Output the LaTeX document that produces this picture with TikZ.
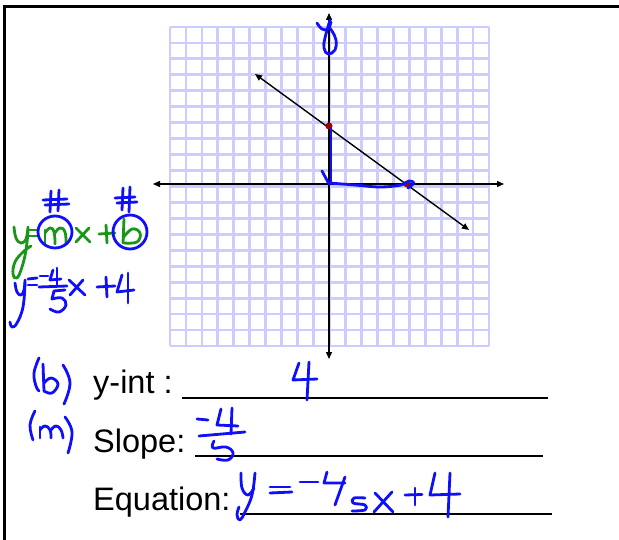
\documentclass[tikz,border=0pt]{standalone}
\usepackage{fontspec}
\setmainfont{Liberation Sans}
\usetikzlibrary{arrows.meta}
\definecolor{gridc}{RGB}{204,204,255}
\definecolor{penblue}{RGB}{15,15,250}
\definecolor{pengreen}{RGB}{25,150,25}
\definecolor{dotred}{RGB}{165,0,0}
\tikzset{
  gridline/.style={draw=gridc, line width=2.8pt},
  axisline/.style={draw=black, line width=1.4pt, {Triangle[length=7pt,width=6pt]}-{Triangle[length=7pt,width=6pt]}},
  frameline/.style={draw=black, line width=3pt},
  uline/.style={draw=black, line width=2pt},
  lbl/.style={inner sep=0pt, anchor=base west, font=\fontsize{32.5}{37}\selectfont},
  hand/.style={draw=penblue, line width=2.8pt, line cap=round, line join=round},
  handg/.style={draw=pengreen, line width=2.8pt, line cap=round, line join=round},
  reddot/.style={circle, fill=dotred, inner sep=0pt, minimum size=7pt},
}
\begin{document}
\begin{tikzpicture}[x=1pt,y=-1pt]
\useasboundingbox (0,0) rectangle (619,540);
% frame
\draw[frameline] (619,7) -- (4,7) -- (4,540);
% grid
\foreach \i in {0,...,20} {
  \draw[gridline] ({170+\i*15.95},27) -- ({170+\i*15.95},346);
  \draw[gridline] (170,{27+\i*15.95}) -- (489,{27+\i*15.95});
}
% axes
\coordinate (xl) at (153,184);
\coordinate (xr) at (504,184);
\coordinate (yt) at (329,13);
\coordinate (yb) at (329,359);
\draw[axisline] (xl) -- (xr);
\draw[axisline] (yb) -- (yt);
% line
\coordinate (la) at (255,74);
\coordinate (lb) at (469,230);
\draw[axisline] (la) -- (lb);
\node[reddot] (yint) at (329,126) {};
\node[reddot] (xint) at (407,184) {};
% blue y label
\draw[hand] plot[smooth, tension=0.7] coordinates {(317,23) (322,29) (328,29) (331,22)};
\draw[hand] plot[smooth, tension=0.7] coordinates {(330,20) (325,38) (324,48) (328,54) (335,50) (336,40) (332,31) (328,26)};
% blue rise/run
\draw[hand] (331,128) -- (331,183);
\draw[hand] (322,171) -- (329,184);
\draw[hand] plot[smooth, tension=0.6] coordinates {(329,183) (355,185) (380,187) (401,185) (409,181) (414,183) (408,188)};
% green y=mx+b
\draw[handg] plot[smooth, tension=0.7] coordinates {(14,227) (16,238) (21,243) (26,239) (28,227)};
\draw[handg] plot[smooth, tension=0.7] coordinates {(28,231) (26,250) (22,267) (17,278) (13,274) (15,262) (23,252) (31,246)};
\draw[handg] (29,230) -- (38,230);
\draw[handg] (29,236) -- (38,236);
\draw[handg] (45,244) -- (45,230);
\draw[handg] plot[smooth, tension=0.8] coordinates {(45,233) (50,228) (54,232) (55,244)};
\draw[handg] plot[smooth, tension=0.8] coordinates {(55,233) (60,228) (65,232) (66,244)};
\draw[handg] (76,228) -- (90,242);
\draw[handg] (89,228) -- (76,242);
\draw[handg] (99,234) -- (115,233);
\draw[handg] (106,225) -- (107,243);
\draw[handg] (124,219) -- (123,243);
\draw[handg] plot[smooth, tension=0.7] coordinates {(123,238) (132,229) (140,233) (137,242) (124,243)};
% blue circles and #
\draw[hand] (55,232) ellipse [x radius=17pt, y radius=16pt];
\draw[hand] (130,232) ellipse [x radius=17pt, y radius=17pt];
\draw[hand] (51,191) -- (50,212);
\draw[hand] (59,190) -- (58,211);
\draw[hand] (43,200) -- (67,199);
\draw[hand] (45,205) -- (69,204);
\draw[hand] (123,188) -- (122,210);
\draw[hand] (130,187) -- (129,212);
\draw[hand] (115,198) -- (135,197);
\draw[hand] (117,203) -- (137,202);
% blue y=-4/5x+4
\draw[hand] plot[smooth, tension=0.7] coordinates {(15,283) (17,292) (21,295) (24,290) (25,280)};
\draw[hand] plot[smooth, tension=0.7] coordinates {(25,283) (23,307) (17,323) (12,327) (10,322)};
\draw[hand] (28,279) -- (37,278);
\draw[hand] (28,285) -- (37,285);
\draw[hand] (40,276) -- (48,276);
\draw[hand] (53,270) -- (50,280) -- (61,279);
\draw[hand] (57,268) -- (57,285);
\draw[hand] (39,287) -- (67,286);
\draw[hand] (54,291) -- (65,290);
\draw[hand] (54,291) -- (52,299);
\draw[hand] plot[smooth, tension=0.7] coordinates {(52,299) (62,298) (66,305) (59,312) (50,309)};
\draw[hand] (69,280) -- (85,295);
\draw[hand] (83,280) -- (70,295);
\draw[hand] (97,287) -- (115,286);
\draw[hand] (106,277) -- (107,297);
\draw[hand] (122,275) -- (117,292) -- (134,290);
\draw[hand] (128,273) -- (128,303);
% labels
\node[lbl] (ylab) at (93,393) {y-int :};
\node[lbl] (slab) at (93,452) {Slope:};
\node[lbl] (elab) at (93,510) {Equation:};
\draw[uline] (182,398) -- (548,398);
\draw[uline] (195,456) -- (543,456);
\draw[uline] (240,514) -- (552,514);
% (b)
\draw[hand] plot[smooth, tension=0.7] coordinates {(39,358) (34,373) (36,386) (39,391)};
\draw[hand] (43,364) -- (44,391);
\draw[hand] plot[smooth, tension=0.7] coordinates {(44,383) (51,378) (58,384) (52,393) (44,391)};
\draw[hand] plot[smooth, tension=0.7] coordinates {(63,365) (70,383) (64,404)};
% (m)
\draw[hand] plot[smooth, tension=0.7] coordinates {(35,411) (30,425) (33,440)};
\draw[hand] (40,438) -- (40,427);
\draw[hand] plot[smooth, tension=0.8] coordinates {(40,430) (45,426) (50,430) (51,438)};
\draw[hand] plot[smooth, tension=0.8] coordinates {(51,430) (56,426) (61,430) (63,438)};
\draw[hand] plot[smooth, tension=0.7] coordinates {(65,417) (72,432) (68,453)};
% y-int answer 4
\draw[hand] (299,363) -- (293,380) -- (317,379);
\draw[hand] (309,362) -- (307,400);
% slope answer
\draw[hand] (197,419) -- (208,420);
\draw[hand] (221,409) -- (217,425) -- (238,426);
\draw[hand] (232,408) -- (231,434);
\draw[hand] (199,436) -- (245,432);
\draw[hand] plot[smooth, tension=0.7] coordinates {(214,441) (213,448) (226,447) (233,453) (228,460) (217,459)};
% equation answer
\draw[hand] plot[smooth, tension=0.7] coordinates {(241,473) (242,488) (248,495) (254,488)};
\draw[hand] plot[smooth, tension=0.7] coordinates {(255,473) (252,495) (245,512) (240,520) (237,515) (239,507)};
\draw[hand] (270,487) -- (290,487);
\draw[hand] (270,493) -- (292,492);
\draw[hand] (300,482) -- (318,482);
\draw[hand] (327,472) -- (324,483) -- (345,483);
\draw[hand] (345,477) -- (335,505);
\draw[hand] plot[smooth, tension=0.6] coordinates {(365,498) (354,498) (353,503) (365,505) (365,510) (352,511)};
\draw[hand] (375,493) -- (393,512);
\draw[hand] (392,492) -- (374,512);
\draw[hand] (405,495) -- (422,494.5);
\draw[hand] (415,488) -- (415,505);
\draw[hand] (435,473) -- (430,495) -- (460,494);
\draw[hand] (450,473) -- (448,517);
\end{tikzpicture}
\end{document}
